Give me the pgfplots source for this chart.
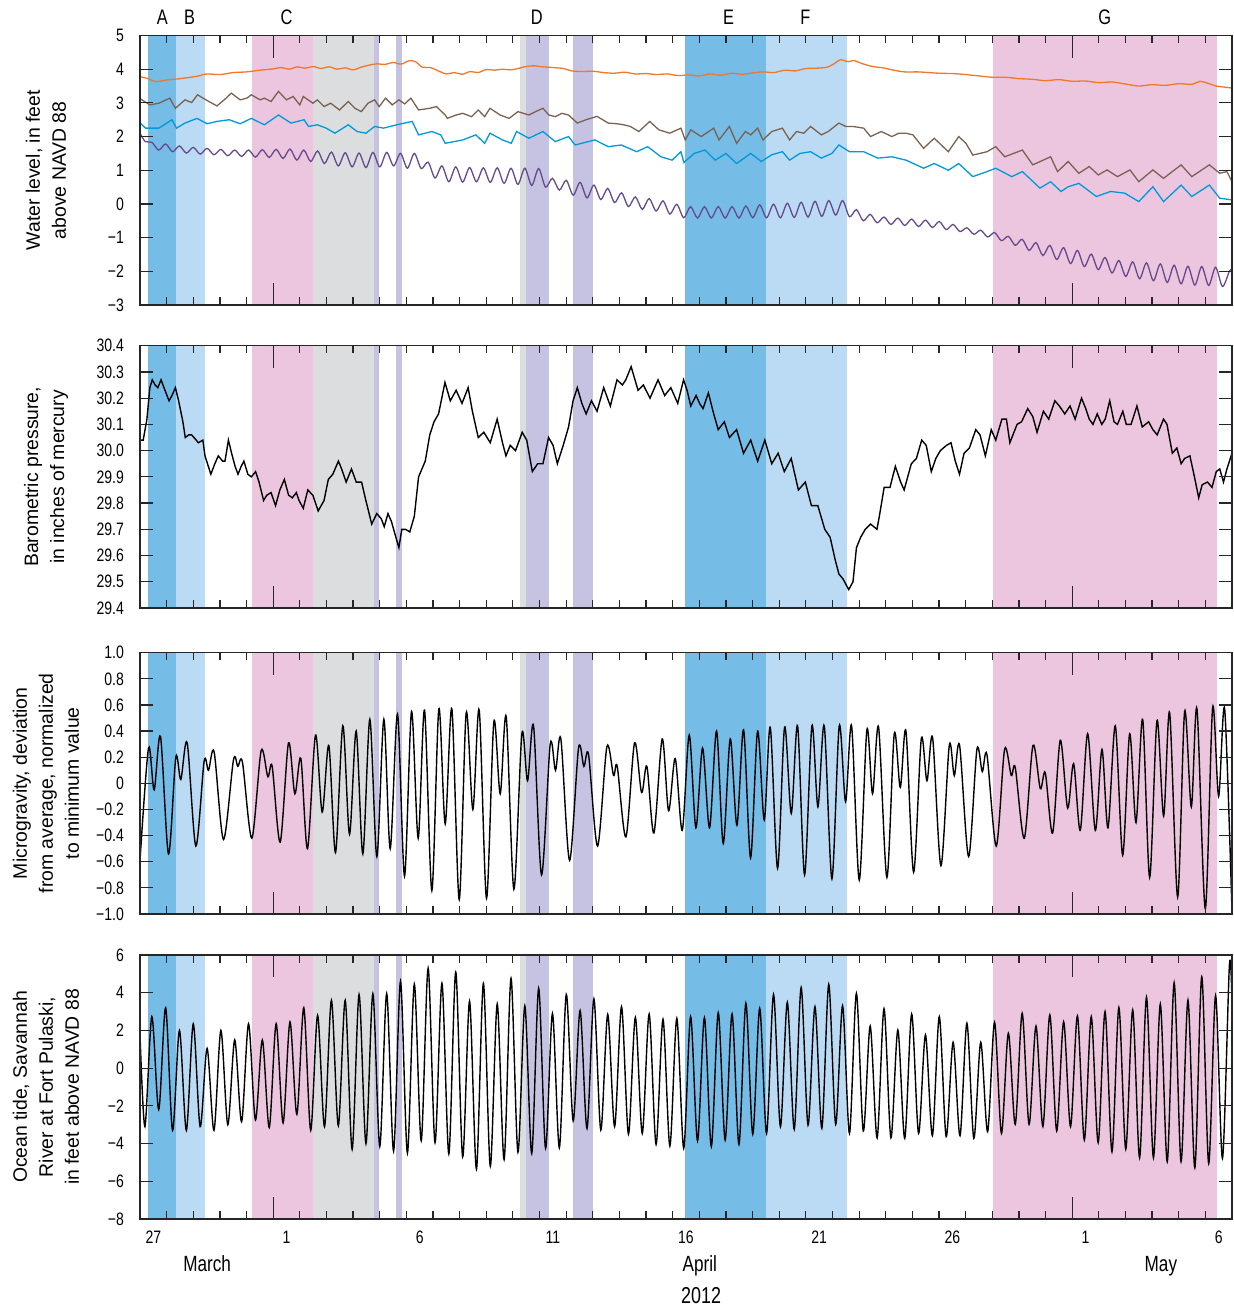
\documentclass[border=0pt]{standalone}
\usepackage{fontspec}
\setmainfont{Liberation Sans}
\newfontfamily\cond{Liberation Sans}[FakeStretch=0.78]
\usepackage{pgfplots}
\pgfplotsset{compat=1.18}

\definecolor{cA}{RGB}{117,188,231}
\definecolor{cB}{RGB}{186,219,243}
\definecolor{cC}{RGB}{236,198,222}
\definecolor{cG}{RGB}{219,221,223}
\definecolor{cP}{RGB}{198,195,226}
\definecolor{lOr}{RGB}{240,120,40}
\definecolor{lBr}{RGB}{122,98,82}
\definecolor{lBl}{RGB}{0,153,219}
\definecolor{lPu}{RGB}{101,74,140}

\newcommand{\band}[5]{\addplot[fill=#1,draw=none,forget plot] coordinates {(#2,#4) (#2,#5) (#3,#5) (#3,#4)};}
\newcommand{\bands}[2]{%
\band{cA}{-4.70}{-3.65}{#1}{#2}
\band{cB}{-3.65}{-2.57}{#1}{#2}
\band{cC}{-0.81}{1.48}{#1}{#2}
\band{cG}{1.48}{3.77}{#1}{#2}
\band{cP}{3.77}{3.97}{#1}{#2}
\band{cP}{4.61}{4.84}{#1}{#2}
\band{cG}{9.25}{9.50}{#1}{#2}
\band{cP}{9.50}{10.34}{#1}{#2}
\band{cP}{11.27}{12.02}{#1}{#2}
\band{cA}{15.47}{18.49}{#1}{#2}
\band{cB}{18.49}{21.56}{#1}{#2}
\band{cC}{27.03}{35.42}{#1}{#2}
}
% long ticks at the first day of each month (April 1 = 0, May 1 = 30)
\newcommand{\monthticks}[2]{%
\draw[line width=0.6pt, black!85] (axis cs:0,#1) -- ([yshift=11pt]axis cs:0,#1);
\draw[line width=0.6pt, black!85] (axis cs:0,#2) -- ([yshift=-11pt]axis cs:0,#2);
\draw[line width=0.6pt, black!85] (axis cs:30,#1) -- ([yshift=11pt]axis cs:30,#1);
\draw[line width=0.6pt, black!85] (axis cs:30,#2) -- ([yshift=-11pt]axis cs:30,#2);
}
\newcommand{\tickfont}{\cond\fontsize{9}{10}\selectfont}
\newcommand{\labfont}{\fontsize{9.7}{13}\selectfont}

\pgfplotsset{panel/.style={
  scale only axis, width=546pt, xmin=-5, xmax=36,
  axis on top, clip mode=individual,
  axis line style={line width=0.6pt, black!85},
  tick style={line width=0.6pt, black!85},
  tick align=inside, tick pos=both,
  xtick={0,30}, xticklabels={},
  minor xtick={-4,-3,...,35},
  major tick length=6.5pt, minor tick length=3.8pt,
  yticklabel style={font=\tickfont, xshift=-4.5pt},
  yticklabel pos=left,
}}

\begin{document}
\begin{tikzpicture}
\path[use as bounding box] (0,0) rectangle (616.5pt,654pt);

% ---------------- Panel 1 ----------------
\begin{axis}[panel, at={(70pt,501.5pt)}, anchor=south west, height=134.75pt,
  ymin=-3, ymax=5, ytick={-3,-2,-1,0,1,2,3,4,5},
  yticklabels={−3,−2,−1,0,1,2,3,4,5}]
\bands{-3}{5}
\addplot[lOr, line width=0.65pt, smooth] coordinates {
(-5.0,3.78) (-4.7,3.72) (-4.4,3.63) (-4.0,3.68) (-3.6,3.71) (-3.2,3.75) (-2.8,3.80) (-2.5,3.86) (-2.0,3.84) (-1.5,3.90) (-1.0,3.92) (-0.5,3.97) (0.0,4.01) (0.3,4.05) (0.6,4.00) (0.9,4.07) (1.2,4.03) (1.5,4.08) (1.8,4.02) (2.1,4.07) (2.4,4.00) (2.7,4.04) (3.0,3.98) (3.3,4.06) (3.6,4.12) (3.9,4.16) (4.2,4.14) (4.5,4.20) (4.8,4.15) (5.1,4.25) (5.35,4.22) (5.6,4.06) (5.9,4.05) (6.2,3.95) (6.5,3.86) (6.8,3.90) (7.1,3.85) (7.4,3.93) (7.7,3.90) (8.0,3.99) (8.3,3.97) (8.6,4.00) (8.9,3.98) (9.2,4.02) (9.5,4.08) (9.8,4.10) (10.1,4.07) (10.5,4.05) (10.9,4.02) (11.2,3.95) (11.6,3.93) (12.0,3.94) (12.4,3.90) (12.8,3.88) (13.2,3.91) (13.6,3.86) (14.0,3.87) (14.4,3.84) (14.8,3.86) (15.2,3.81) (15.6,3.83) (16.0,3.80) (16.4,3.86) (16.8,3.82) (17.2,3.88) (17.6,3.85) (18.0,3.89) (18.4,3.92) (18.8,3.90) (19.2,3.97) (19.6,3.95) (20.0,4.02) (20.4,4.03) (20.8,4.06) (21.1,4.18) (21.3,4.28) (21.6,4.22) (21.8,4.26) (22.1,4.17) (22.5,4.08) (22.9,4.04) (23.3,3.97) (23.7,3.92) (24.2,3.92) (24.6,3.90) (25.0,3.88) (25.5,3.87) (26.0,3.84) (26.5,3.80) (27.0,3.76) (27.5,3.76) (28.0,3.72) (28.5,3.70) (29.0,3.66) (29.5,3.69) (30.0,3.64) (30.5,3.65) (31.0,3.60) (31.5,3.62) (32.0,3.56) (32.5,3.50) (33.0,3.54) (33.5,3.52) (34.0,3.57) (34.5,3.55) (34.8,3.64) (35.1,3.58) (35.4,3.50) (35.7,3.47) (36.0,3.44)};
\addplot[lBr, line width=0.65pt] coordinates {
(-4.99,3.12) (-4.63,2.94) (-4.29,2.99) (-3.88,3.14) (-3.67,2.84) (-3.31,3.09) (-3.06,3.01) (-2.84,3.24) (-2.48,3.07) (-2.11,2.91) (-1.81,3.11) (-1.57,3.29) (-1.24,3.09) (-0.99,3.14) (-0.82,3.24) (-0.49,3.09) (-0.33,3.14) (-0.08,3.04) (0.20,3.34) (0.50,3.09) (0.75,3.19) (1.00,2.94) (1.13,3.19) (1.49,2.99) (1.66,3.09) (1.91,2.89) (2.16,2.99) (2.49,2.79) (2.82,3.04) (3.07,2.84) (3.31,2.74) (3.56,2.99) (3.81,3.09) (3.98,2.89) (4.22,3.14) (4.47,2.94) (4.72,3.09) (4.94,2.97) (5.17,3.14) (5.46,2.79) (5.88,2.84) (6.13,2.89) (6.46,2.64) (6.54,2.54) (6.87,2.64) (7.12,2.69) (7.45,2.59) (7.70,2.79) (7.94,2.59) (8.14,2.84) (8.52,2.64) (8.86,2.54) (9.19,2.74) (9.60,2.64) (9.85,2.74) (10.13,2.84) (10.35,2.64) (10.59,2.59) (10.84,2.69) (11.09,2.64) (11.42,2.40) (11.75,2.50) (12.16,2.60) (12.58,2.40) (12.91,2.38) (13.16,2.35) (13.41,2.30) (13.73,2.15) (14.14,2.45) (14.48,2.20) (14.89,2.10) (15.31,2.25) (15.47,1.90) (15.68,2.20) (16.07,2.00) (16.54,2.25) (16.74,1.90) (17.13,2.30) (17.40,1.80) (17.73,2.15) (17.93,2.05) (18.19,2.25) (18.39,1.90) (18.72,2.15) (19.12,2.25) (19.39,1.90) (19.65,2.15) (19.92,2.10) (20.18,2.30) (20.58,2.05) (20.84,2.15) (21.24,2.40) (21.50,2.30) (21.77,2.30) (22.17,2.25) (22.43,2.00) (22.83,2.15) (23.23,2.00) (23.49,2.10) (23.76,2.10) (24.02,2.05) (24.42,1.65) (24.82,1.95) (25.35,1.55) (25.74,2.00) (26.01,1.80) (26.27,1.45) (26.80,1.55) (27.13,1.70) (27.47,1.40) (28.13,1.60) (28.52,1.16) (29.19,1.40) (29.45,0.96) (29.85,1.26) (30.25,0.91) (30.64,1.11) (30.98,0.86) (31.31,1.01) (31.70,0.81) (32.17,1.01) (32.50,0.66) (33.03,1.01) (33.43,0.76) (34.09,1.16) (34.49,0.81) (35.15,1.16) (35.54,0.91) (35.81,0.96) (36.0,0.66)};
\addplot[lBl, line width=0.65pt] coordinates {
(-4.99,2.40) (-4.79,2.25) (-4.29,2.25) (-3.80,2.50) (-3.63,2.25) (-3.31,2.40) (-2.86,2.54) (-2.48,2.38) (-2.11,2.45) (-1.65,2.50) (-1.24,2.38) (-0.82,2.54) (-0.33,2.35) (0.20,2.64) (0.67,2.40) (1.16,2.50) (1.33,2.30) (1.66,2.35) (1.99,2.25) (2.32,2.10) (2.82,2.35) (3.15,2.15) (3.48,2.10) (3.81,2.30) (4.14,2.25) (4.64,2.35) (5.22,2.45) (5.46,2.05) (5.96,2.15) (6.29,2.05) (6.46,1.80) (7.12,1.90) (7.61,2.05) (7.94,1.80) (8.14,2.10) (8.61,1.90) (8.94,1.80) (9.14,2.15) (9.60,1.95) (10.13,2.15) (10.59,1.85) (11.09,2.00) (11.34,1.75) (12.08,1.90) (12.58,1.70) (13.07,1.75) (13.65,1.55) (14.06,1.70) (14.56,1.40) (14.98,1.30) (15.31,1.55) (15.42,1.23) (15.81,1.50) (16.21,1.60) (16.60,1.30) (17.00,1.50) (17.40,1.20) (17.93,1.50) (18.33,1.26) (18.72,1.46) (19.12,1.55) (19.39,1.30) (19.78,1.50) (20.18,1.55) (20.58,1.36) (20.98,1.50) (21.24,1.75) (21.64,1.55) (22.17,1.55) (22.70,1.36) (23.23,1.40) (23.76,1.30) (24.42,1.06) (24.82,1.20) (25.35,1.00) (25.74,1.20) (26.27,0.81) (26.80,0.96) (27.13,1.06) (27.73,0.81) (28.13,0.96) (28.79,0.47) (29.19,0.66) (29.58,0.37) (29.85,0.51) (30.25,0.61) (30.91,0.22) (31.44,0.37) (31.97,0.32) (32.50,0.07) (33.03,0.51) (33.43,0.07) (34.09,0.56) (34.49,0.22) (35.15,0.56) (35.54,0.17) (36.0,0.12)};
\addplot[lPu, line width=0.65pt, smooth] coordinates {
(-5.0,2.10) (-4.8,1.85) (-4.556,1.83) (-4.297,1.60) (-4.037,1.78) (-3.778,1.55) (-3.519,1.72) (-3.259,1.51) (-3.000,1.68) (-2.741,1.48) (-2.481,1.65) (-2.222,1.46) (-1.963,1.62) (-1.703,1.43) (-1.444,1.60) (-1.185,1.41) (-0.925,1.60) (-0.666,1.39) (-0.406,1.61) (-0.147,1.38) (0.112,1.62) (0.372,1.35) (0.631,1.63) (0.890,1.30) (1.150,1.60) (1.409,1.26) (1.668,1.57) (1.928,1.20) (2.187,1.54) (2.446,1.13) (2.706,1.52) (2.965,1.10) (3.225,1.51) (3.484,1.08) (3.743,1.53) (4.003,1.10) (4.262,1.53) (4.521,1.13) (4.781,1.50) (5.040,1.06) (5.299,1.50) (5.559,1.05) (5.818,1.24) (6.077,0.77) (6.337,1.13) (6.596,0.66) (6.855,1.10) (7.115,0.65) (7.374,1.08) (7.633,0.66) (7.893,1.07) (8.152,0.64) (8.412,1.07) (8.671,0.61) (8.930,1.06) (9.190,0.58) (9.449,1.06) (9.708,0.55) (9.968,1.05) (10.227,0.50) (10.486,0.76) (10.746,0.41) (11.005,0.70) (11.264,0.26) (11.524,0.64) (11.783,0.18) (12.042,0.56) (12.302,0.13) (12.561,0.46) (12.820,0.04) (13.080,0.33) (13.339,-0.08) (13.599,0.21) (13.858,-0.16) (14.117,0.16) (14.377,-0.21) (14.636,0.09) (14.895,-0.30) (15.155,-0.01) (15.414,-0.41) (15.673,-0.08) (15.933,-0.42) (16.192,-0.08) (16.451,-0.42) (16.711,-0.08) (16.970,-0.42) (17.229,-0.08) (17.489,-0.42) (17.748,-0.06) (18.007,-0.41) (18.267,-0.03) (18.526,-0.41) (18.786,-0.01) (19.045,-0.41) (19.304,0.02) (19.564,-0.40) (19.823,0.05) (20.082,-0.39) (20.342,0.08) (20.601,-0.37) (20.860,0.10) (21.120,-0.33) (21.379,0.10) (21.638,-0.38) (21.898,-0.17) (22.157,-0.50) (22.416,-0.31) (22.676,-0.56) (22.935,-0.39) (23.194,-0.61) (23.454,-0.42) (23.713,-0.64) (23.973,-0.45) (24.232,-0.67) (24.491,-0.48) (24.751,-0.70) (25.010,-0.52) (25.269,-0.76) (25.529,-0.61) (25.788,-0.82) (26.047,-0.71) (26.307,-0.90) (26.566,-0.78) (26.825,-0.98) (27.085,-0.85) (27.344,-1.09) (27.603,-0.96) (27.863,-1.23) (28.122,-1.05) (28.381,-1.38) (28.641,-1.15) (28.900,-1.53) (29.160,-1.23) (29.419,-1.65) (29.678,-1.30) (29.938,-1.77) (30.197,-1.38) (30.456,-1.86) (30.716,-1.49) (30.975,-1.95) (31.234,-1.59) (31.494,-2.05) (31.753,-1.68) (32.012,-2.15) (32.272,-1.72) (32.531,-2.22) (32.790,-1.75) (33.050,-2.28) (33.309,-1.78) (33.569,-2.33) (33.828,-1.82) (34.087,-2.37) (34.347,-1.85) (34.606,-2.41) (34.865,-1.86) (35.125,-2.42) (35.384,-1.88) (35.643,-2.45) (35.903,-2.00) (36.0,-1.93)};
\monthticks{-3}{5}
\node[font=\cond\fontsize{10.5}{11}\selectfont, anchor=base] at ([yshift=5.75pt]axis cs:-4.16,5) {A};
\node[font=\cond\fontsize{10.5}{11}\selectfont, anchor=base] at ([yshift=5.75pt]axis cs:-3.14,5) {B};
\node[font=\cond\fontsize{10.5}{11}\selectfont, anchor=base] at ([yshift=5.75pt]axis cs:0.50,5) {C};
\node[font=\cond\fontsize{10.5}{11}\selectfont, anchor=base] at ([yshift=5.75pt]axis cs:9.90,5) {D};
\node[font=\cond\fontsize{10.5}{11}\selectfont, anchor=base] at ([yshift=5.75pt]axis cs:17.10,5) {E};
\node[font=\cond\fontsize{10.5}{11}\selectfont, anchor=base] at ([yshift=5.75pt]axis cs:19.98,5) {F};
\node[font=\cond\fontsize{10.5}{11}\selectfont, anchor=base] at ([yshift=5.75pt]axis cs:31.22,5) {G};
\node[rotate=90, align=center, font=\labfont] at ([xshift=-47pt]rel axis cs:0,0.5) {Water level, in feet\\above NAVD 88};
\end{axis}

% ---------------- Panel 2 ----------------
\begin{axis}[panel, at={(70pt,350pt)}, anchor=south west, height=131.15pt,
  ymin=29.4, ymax=30.4, ytick={29.4,29.5,29.6,29.7,29.8,29.9,30.0,30.1,30.2,30.3,30.4},
  yticklabels={29.4,29.5,29.6,29.7,29.8,29.9,30.0,30.1,30.2,30.3,30.4}]
\bands{29.4}{30.4}
\addplot[black, line width=0.7pt] coordinates {
(-5.0,30.04) (-4.88,30.04) (-4.74,30.12) (-4.63,30.24) (-4.54,30.27) (-4.43,30.25) (-4.33,30.24) (-4.21,30.27) (-4.1,30.24) (-3.91,30.19) (-3.80,30.21) (-3.67,30.24) (-3.55,30.19) (-3.39,30.11) (-3.30,30.05) (-3.17,30.06) (-3.06,30.06) (-2.89,30.04) (-2.81,30.03) (-2.64,30.04) (-2.56,29.98) (-2.34,29.91) (-2.19,29.95) (-2.06,29.98) (-1.90,29.96) (-1.81,29.96) (-1.68,30.04) (-1.56,29.99) (-1.43,29.94) (-1.32,29.91) (-1.20,29.94) (-1.10,29.96) (-0.95,29.91) (-0.82,29.90) (-0.66,29.92) (-0.53,29.88) (-0.36,29.81) (-0.24,29.83) (-0.08,29.84) (0.09,29.79) (0.25,29.85) (0.42,29.89) (0.58,29.83) (0.72,29.82) (0.87,29.84) (0.97,29.81) (1.13,29.78) (1.30,29.85) (1.49,29.83) (1.69,29.77) (1.91,29.81) (2.07,29.89) (2.24,29.91) (2.45,29.96) (2.57,29.93) (2.74,29.88) (2.94,29.93) (3.12,29.88) (3.32,29.88) (3.48,29.81) (3.70,29.72) (3.89,29.76) (4.06,29.74) (4.17,29.71) (4.31,29.76) (4.44,29.73) (4.55,29.69) (4.72,29.63) (4.83,29.70) (4.97,29.70) (5.13,29.69) (5.30,29.75) (5.46,29.90) (5.71,29.96) (5.88,30.06) (6.04,30.11) (6.21,30.14) (6.45,30.26) (6.65,30.19) (6.87,30.23) (7.09,30.18) (7.32,30.24) (7.48,30.15) (7.70,30.05) (7.91,30.07) (8.15,30.03) (8.41,30.12) (8.61,30.03) (8.74,29.98) (8.90,30.02) (9.10,30.00) (9.35,30.07) (9.52,30.04) (9.73,29.92) (9.93,29.95) (10.13,29.95) (10.34,30.05) (10.51,30.02) (10.67,29.95) (10.89,30.02) (11.09,30.09) (11.26,30.19) (11.42,30.24) (11.59,30.18) (11.75,30.14) (11.95,30.19) (12.16,30.15) (12.41,30.24) (12.66,30.17) (12.91,30.27) (13.11,30.25) (13.24,30.27) (13.44,30.32) (13.70,30.23) (13.90,30.25) (14.15,30.20) (14.45,30.27) (14.70,30.21) (14.93,30.24) (15.19,30.18) (15.41,30.27) (15.54,30.23) (15.68,30.17) (15.88,30.21) (16.01,30.18) (16.14,30.16) (16.34,30.22) (16.54,30.14) (16.71,30.08) (16.94,30.11) (17.13,30.05) (17.40,30.08) (17.66,29.99) (17.93,30.04) (18.19,29.96) (18.46,30.04) (18.72,29.95) (18.96,29.99) (19.19,29.92) (19.45,29.97) (19.72,29.85) (19.98,29.88) (20.21,29.79) (20.45,29.79) (20.71,29.70) (20.91,29.67) (21.11,29.58) (21.24,29.53) (21.40,29.51) (21.61,29.47) (21.77,29.50) (21.90,29.63) (22.06,29.67) (22.23,29.70) (22.43,29.72) (22.67,29.70) (22.76,29.75) (22.94,29.86) (23.16,29.86) (23.36,29.94) (23.56,29.88) (23.69,29.85) (23.96,29.95) (24.15,29.97) (24.35,30.04) (24.52,30.02) (24.71,29.92) (24.88,29.97) (25.05,30.00) (25.28,30.02) (25.45,30.03) (25.61,29.96) (25.77,29.91) (25.94,29.99) (26.14,30.01) (26.38,30.08) (26.54,30.06) (26.74,29.98) (26.96,30.08) (27.13,30.04) (27.36,30.12) (27.53,30.12) (27.66,30.03) (27.93,30.10) (28.10,30.11) (28.33,30.16) (28.52,30.13) (28.68,30.07) (28.92,30.15) (29.12,30.12) (29.35,30.19) (29.52,30.17) (29.72,30.14) (29.92,30.17) (30.11,30.12) (30.35,30.20) (30.51,30.16) (30.64,30.12) (30.78,30.10) (30.94,30.14) (31.11,30.10) (31.24,30.12) (31.41,30.19) (31.57,30.11) (31.70,30.10) (31.90,30.15) (32.03,30.10) (32.21,30.10) (32.43,30.17) (32.63,30.09) (32.87,30.11) (33.03,30.08) (33.19,30.06) (33.43,30.12) (33.56,30.10) (33.76,29.99) (33.93,30.01) (34.09,29.95) (34.22,29.97) (34.42,29.98) (34.59,29.90) (34.75,29.82) (34.88,29.87) (35.08,29.88) (35.25,29.86) (35.41,29.92) (35.54,29.93) (35.68,29.88) (35.81,29.93) (36.0,29.99)};
\monthticks{29.4}{30.4}
\node[rotate=90, align=center, font=\labfont] at ([xshift=-47pt]rel axis cs:0,0.5) {Barometric pressure,\\in inches of mercury};
\end{axis}

% ---------------- Panel 3 ----------------
\begin{axis}[panel, at={(70pt,197pt)}, anchor=south west, height=130.65pt,
  ymin=-1, ymax=1, ytick={-1,-0.8,-0.6,-0.4,-0.2,0,0.2,0.4,0.6,0.8,1},
  yticklabels={−1.0,−0.8,−0.6,−0.4,−0.2,0,0.2,0.4,0.6,0.8,1.0}]
\bands{-1}{1}
\addplot[black, line width=0.7pt, smooth] coordinates {
(-5.0,-0.59) (-4.681,0.27) (-4.469,-0.05) (-4.231,0.36) (-3.930,-0.54) (-3.655,0.20) (-3.467,0.03) (-3.229,0.31) (-2.904,-0.48) (-2.591,0.17) (-2.428,0.10) (-2.216,0.24) (-1.865,-0.43) (-1.490,0.18) (-1.327,0.13) (-1.152,0.16) (-0.801,-0.42) (-0.451,0.25) (-0.200,0.05) (-0.038,0.13) (0.263,-0.45) (0.576,0.31) (0.814,-0.08) (1.039,0.19) (1.289,-0.50) (1.590,0.37) (1.840,-0.22) (2.090,0.29) (2.341,-0.53) (2.616,0.44) (2.866,-0.39) (3.117,0.40) (3.367,-0.54) (3.630,0.49) (3.893,-0.56) (4.156,0.49) (4.394,-0.50) (4.669,0.53) (4.932,-0.71) (5.195,0.55) (5.445,-0.42) (5.683,0.56) (5.958,-0.82) (6.221,0.57) (6.459,-0.31) (6.709,0.57) (6.985,-0.89) (7.248,0.54) (7.498,-0.20) (7.736,0.56) (8.011,-0.88) (8.286,0.47) (8.524,-0.08) (8.750,0.51) (9.038,-0.81) (9.338,0.38) (9.551,0.02) (9.776,0.44) (10.076,-0.70) (10.402,0.30) (10.602,0.10) (10.802,0.34) (11.128,-0.59) (11.466,0.27) (11.666,0.13) (11.841,0.22) (12.180,-0.48) (12.530,0.28) (12.780,0.06) (12.918,0.13) (13.244,-0.41) (13.569,0.31) (13.832,-0.07) (14.032,0.13) (14.295,-0.38) (14.608,0.34) (14.846,-0.21) (15.096,0.19) (15.359,-0.36) (15.622,0.37) (15.872,-0.34) (16.122,0.27) (16.385,-0.34) (16.648,0.40) (16.898,-0.46) (17.161,0.34) (17.412,-0.32) (17.662,0.41) (17.925,-0.57) (18.188,0.40) (18.438,-0.28) (18.664,0.43) (18.939,-0.65) (19.202,0.43) (19.452,-0.23) (19.690,0.44) (19.953,-0.70) (20.228,0.44) (20.453,-0.18) (20.691,0.44) (20.979,-0.73) (21.254,0.44) (21.492,-0.14) (21.717,0.44) (22.005,-0.74) (22.293,0.41) (22.505,-0.08) (22.731,0.43) (23.043,-0.72) (23.320,0.38) (23.545,-0.03) (23.758,0.40) (24.046,-0.68) (24.334,0.34) (24.547,0.02) (24.759,0.35) (25.072,-0.63) (25.385,0.29) (25.573,0.06) (25.773,0.29) (26.111,-0.56) (26.423,0.26) (26.624,0.09) (26.799,0.22) (27.149,-0.48) (27.462,0.26) (27.713,0.06) (27.863,0.12) (28.201,-0.42) (28.527,0.29) (28.802,-0.04) (28.990,0.08) (29.265,-0.38) (29.553,0.33) (29.829,-0.19) (30.054,0.15) (30.304,-0.36) (30.580,0.38) (30.868,-0.36) (31.118,0.26) (31.344,-0.34) (31.619,0.44) (31.895,-0.55) (32.158,0.38) (32.396,-0.30) (32.646,0.49) (32.909,-0.72) (33.184,0.48) (33.434,-0.25) (33.659,0.54) (33.960,-0.87) (34.222,0.55) (34.473,-0.18) (34.685,0.57) (34.998,-0.96) (35.273,0.58) (35.498,-0.10) (35.724,0.57) (36.0,-0.98)};
\monthticks{-1}{1}
\node[rotate=90, align=center, font=\labfont] at ([xshift=-47pt]rel axis cs:0,0.5) {Microgravity, deviation\\from average, normalized\\to minimum value};
\end{axis}

% ---------------- Panel 4 ----------------
\begin{axis}[panel, at={(70pt,44.5pt)}, anchor=south west, height=132pt,
  ymin=-8, ymax=6, ytick={-8,-6,-4,-2,0,2,4,6},
  yticklabels={−8,−6,−4,−2,0,2,4,6}]
\bands{-8}{6}
\addplot[black, line width=0.7pt, smooth] coordinates {
(-5.0,1.8) (-4.815,-3.1) (-4.556,2.73) (-4.297,-2.2) (-4.037,3.2) (-3.778,-3.3) (-3.519,2.0) (-3.259,-3.3) (-3.000,2.35) (-2.741,-3.1) (-2.481,1.05) (-2.222,-3.3) (-1.963,2.0) (-1.703,-3.0) (-1.444,1.5) (-1.185,-2.85) (-0.925,2.35) (-0.666,-2.75) (-0.406,1.5) (-0.147,-3.15) (0.112,2.35) (0.372,-2.9) (0.631,2.45) (0.890,-2.45) (1.150,3.2) (1.409,-3.3) (1.668,2.8) (1.928,-3.1) (2.187,3.6) (2.446,-3.05) (2.706,3.6) (2.965,-4.3) (3.225,3.9) (3.484,-4.0) (3.743,3.95) (4.003,-4.15) (4.262,3.95) (4.521,-4.4) (4.781,4.6) (5.040,-4.5) (5.299,4.45) (5.559,-3.85) (5.818,5.3) (6.077,-3.95) (6.337,4.5) (6.596,-4.55) (6.855,5.1) (7.115,-4.7) (7.374,3.55) (7.633,-5.35) (7.893,4.5) (8.152,-5.2) (8.412,3.4) (8.671,-4.85) (8.930,4.76) (9.190,-4.46) (9.449,3.3) (9.708,-4.52) (9.968,4.23) (10.227,-4.25) (10.486,2.9) (10.746,-4.22) (11.005,3.91) (11.264,-2.8) (11.524,3.05) (11.783,-3.2) (12.042,3.67) (12.302,-3.28) (12.561,2.85) (12.820,-3.1) (13.080,3.26) (13.339,-3.5) (13.599,2.69) (13.858,-3.46) (14.117,2.87) (14.377,-4.04) (14.636,2.59) (14.895,-4.13) (15.155,2.64) (15.414,-4.25) (15.673,2.73) (15.933,-3.86) (16.192,2.68) (16.451,-4.16) (16.711,2.94) (16.970,-3.81) (17.229,2.87) (17.489,-4.04) (17.748,3.44) (18.007,-3.5) (18.267,3.17) (18.526,-3.46) (18.786,3.91) (19.045,-3.1) (19.304,3.49) (19.564,-3.24) (19.823,4.27) (20.082,-3.02) (20.342,3.26) (20.601,-3.19) (20.860,4.44) (21.120,-2.98) (21.379,3.31) (21.638,-3.46) (21.898,3.97) (22.157,-3.33) (22.416,2.23) (22.676,-3.7) (22.935,3.15) (23.194,-3.69) (23.454,2.02) (23.713,-3.72) (23.973,2.87) (24.232,-3.46) (24.491,1.76) (24.751,-3.58) (25.010,2.73) (25.269,-3.63) (25.529,1.37) (25.788,-3.58) (26.047,2.38) (26.307,-3.72) (26.566,1.37) (26.825,-3.37) (27.085,2.43) (27.344,-3.46) (27.603,1.85) (27.863,-2.98) (28.122,2.91) (28.381,-2.98) (28.641,2.23) (28.900,-3.1) (29.160,2.82) (29.419,-3.33) (29.678,2.46) (29.938,-3.1) (30.197,2.77) (30.456,-3.81) (30.716,2.73) (30.975,-3.95) (31.234,3.0) (31.494,-4.43) (31.753,3.21) (32.012,-4.29) (32.272,3.08) (32.531,-4.75) (32.790,3.76) (33.050,-4.75) (33.309,3.4) (33.569,-4.96) (33.828,4.53) (34.087,-4.96) (34.347,3.61) (34.606,-5.28) (34.865,4.85) (35.125,-5.05) (35.384,3.84) (35.643,-4.78) (35.903,5.47) (36.0,3.5)};
\monthticks{-8}{6}
\node[rotate=90, align=center, font=\labfont] at ([xshift=-47pt]rel axis cs:0,0.5) {Ocean tide, Savannah\\River at Fort Pulaski,\\in feet above NAVD 88};
\node[font=\tickfont, anchor=base] at ([yshift=-12.2pt]axis cs:-4.5,-8) {27};
\node[font=\tickfont, anchor=base] at ([yshift=-12.2pt]axis cs:0.5,-8) {1};
\node[font=\tickfont, anchor=base] at ([yshift=-12.2pt]axis cs:5.5,-8) {6};
\node[font=\tickfont, anchor=base] at ([yshift=-12.2pt]axis cs:10.5,-8) {11};
\node[font=\tickfont, anchor=base] at ([yshift=-12.2pt]axis cs:15.5,-8) {16};
\node[font=\tickfont, anchor=base] at ([yshift=-12.2pt]axis cs:20.5,-8) {21};
\node[font=\tickfont, anchor=base] at ([yshift=-12.2pt]axis cs:25.5,-8) {26};
\node[font=\tickfont, anchor=base] at ([yshift=-12.2pt]axis cs:30.5,-8) {1};
\node[font=\tickfont, anchor=base] at ([yshift=-12.2pt]axis cs:35.5,-8) {6};
\node[font=\cond\fontsize{11}{12}\selectfont, anchor=base] at ([yshift=-26.3pt]axis cs:-2.48,-8) {March};
\node[font=\cond\fontsize{11}{12}\selectfont, anchor=base] at ([yshift=-26.3pt]axis cs:16.02,-8) {April};
\node[font=\cond\fontsize{11}{12}\selectfont, anchor=base] at ([yshift=-26.3pt]axis cs:33.33,-8) {May};
\node[font=\cond\fontsize{11.5}{12}\selectfont, anchor=base] at ([yshift=-42pt]axis cs:16.07,-8) {2012};
\end{axis}
\end{tikzpicture}
\end{document}
